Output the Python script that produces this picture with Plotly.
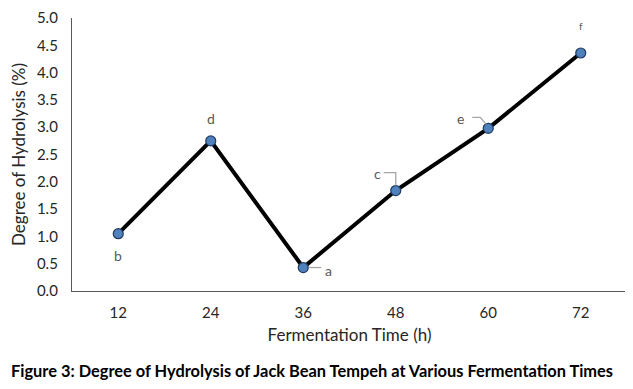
import plotly.graph_objects as go

times = [12, 24, 36, 48, 60, 72]
hydrolysis = [1.05, 2.75, 0.43, 1.84, 2.98, 4.36]
letters = ["b", "d", "a", "c", "e", "f"]
y_ticks = [0.0, 0.5, 1.0, 1.5, 2.0, 2.5, 3.0, 3.5, 4.0, 4.5, 5.0]

FONT = "Lato"
fig = go.Figure()
fig.add_trace(go.Scatter(
    x=times, y=hydrolysis, mode="lines+markers",
    line=dict(color="black", width=4),
    marker=dict(size=10, color="#4f81bd", line=dict(color="#1f3a5f", width=1.2)),
    showlegend=False, hoverinfo="skip",
))

# letter labels: (xshift, yshift, size)
offsets = [(0, -22, 14), (0, 22, 14), (25, -3, 14), (-18, 17, 14), (-28, 10, 14), (0, 27, 10)]
for t, v, l, (dx, dy, s) in zip(times, hydrolysis, letters, offsets):
    fig.add_annotation(x=t, y=v, xref="x", yref="y", text=l, showarrow=False,
                       xshift=dx, yshift=dy,
                       font=dict(family=FONT, size=s, color="#595959"))

lead = dict(color="#a6a6a6", width=1.3)
# a leader
fig.add_shape(type="line", xref="x", yref="y", xsizemode="pixel", ysizemode="pixel",
              xanchor=times[2], yanchor=hydrolysis[2], x0=6, x1=18, y0=0, y1=0, line=lead)
# c leader
fig.add_shape(type="path", xref="x", yref="y", xsizemode="pixel", ysizemode="pixel",
              xanchor=times[3], yanchor=hydrolysis[3],
              path="M -12,18 L 0,18 L 0,5", line=lead)
# e leader
fig.add_shape(type="path", xref="x", yref="y", xsizemode="pixel", ysizemode="pixel",
              xanchor=times[4], yanchor=hydrolysis[4],
              path="M -16,11 L -8,11 L -2,4", line=lead)

fig.add_shape(type="line", xref="paper", yref="paper", x0=1.004, x1=1.004,
              y0=-0.245, y1=-0.34, line=dict(color="black", width=2))
fig.add_annotation(xref="paper", yref="paper", x=-0.113, y=-0.29, xanchor="left",
                   yanchor="middle", showarrow=False,
                   text="<b>Figure 3: Degree of Hydrolysis of Jack Bean Tempeh at Various Fermentation Times</b>",
                   font=dict(family=FONT, size=16.4, color="black"))

fig.update_layout(
    width=625, height=381, margin=dict(l=64, r=6, t=10, b=98),
    paper_bgcolor="white", plot_bgcolor="white",
    font=dict(family=FONT, size=15, color="#262626"),
    xaxis=dict(range=[6, 78], tickvals=times, showgrid=False, showline=True,
               zeroline=False, automargin=False,
               linecolor="#595959", linewidth=1.3, ticks="", ticklabelstandoff=8,
               title=dict(text="Fermentation Time (h)", standoff=8,
                          font=dict(size=17, color="#262626"))),
    yaxis=dict(range=[0, 5.001], tickvals=y_ticks, ticktext=[f"{v:.1f}" for v in y_ticks],
               showgrid=False, showline=True, linecolor="#595959", linewidth=1.3,
               ticks="", ticklabelstandoff=10, zeroline=False, ticklabeloverflow="allow",
               automargin=False,
               title=dict(text="Degree of Hydrolysis (%)", standoff=6,
                          font=dict(size=17, color="#262626"))),
)
fig.write_html("out.html")
